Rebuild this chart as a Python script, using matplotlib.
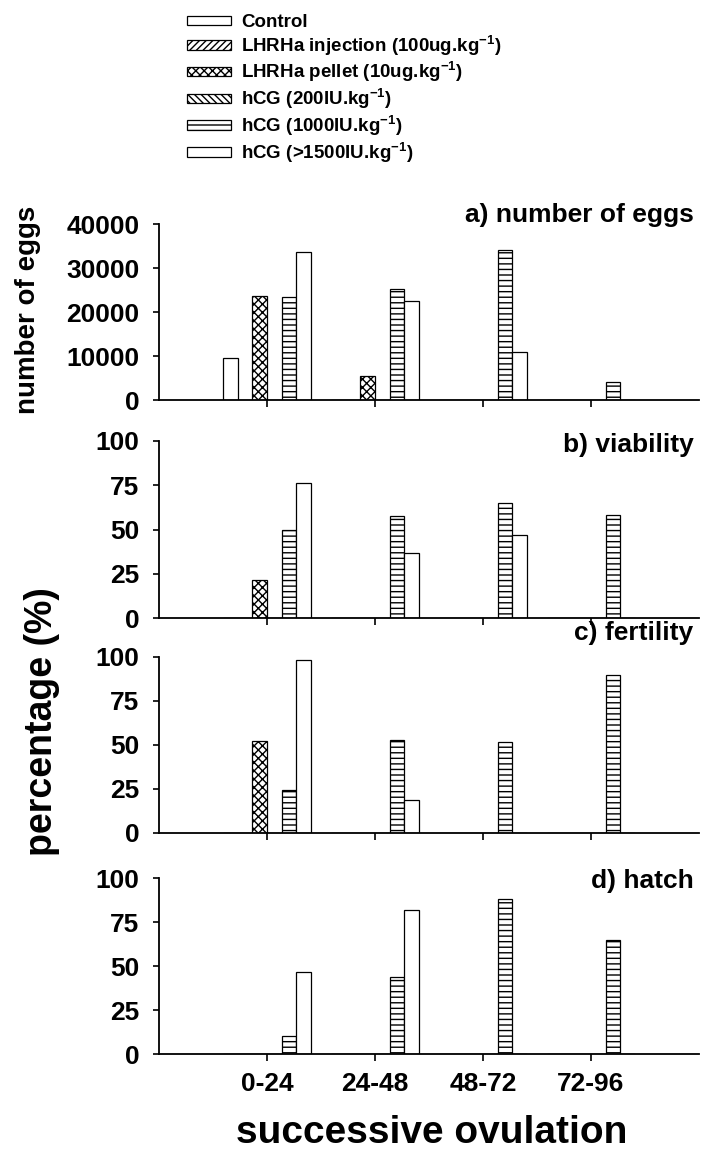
import matplotlib
matplotlib.use('Agg')
import matplotlib.pyplot as plt
import numpy as np

plt.rcParams['font.family'] = ['Liberation Sans', 'DejaVu Sans']
plt.rcParams['font.weight'] = 'bold'
plt.rcParams['mathtext.fontset'] = 'custom'
plt.rcParams['mathtext.rm'] = 'Liberation Sans:bold'
plt.rcParams['mathtext.default'] = 'rm'
plt.rcParams['hatch.linewidth'] = 1.0

categories = ['0-24', '24-48', '48-72', '72-96']
treatments = ['Control',
              r'LHRHa injection (100ug.kg$^{-1}$)',
              r'LHRHa pellet (10ug.kg$^{-1}$)',
              r'hCG (200IU.kg$^{-1}$)',
              r'hCG (1000IU.kg$^{-1}$)',
              r'hCG (>1500IU.kg$^{-1}$)']
hatches = ['', '/////', 'xxxx', '\\\\\\\\\\', '---', '']

# a) number of eggs
eggs_control = [9500, 0, 0, 0]
eggs_injection = [0, 0, 0, 0]
eggs_pellet = [23600, 5400, 0, 0]
eggs_hcg200 = [0, 0, 0, 0]
eggs_hcg1000 = [23400, 25200, 34100, 4100]
eggs_hcg1500 = [33600, 22500, 10900, 0]

# b) viability
via_control = [0, 0, 0, 0]
via_injection = [0, 0, 0, 0]
via_pellet = [21.5, 0, 0, 0]
via_hcg200 = [0, 0, 0, 0]
via_hcg1000 = [50, 57.5, 65, 58]
via_hcg1500 = [76, 36.5, 47, 0]

# c) fertility
fer_control = [0, 0, 0, 0]
fer_injection = [0, 0, 0, 0]
fer_pellet = [52.5, 0, 0, 0]
fer_hcg200 = [0, 0, 0, 0]
fer_hcg1000 = [24.5, 53, 51.5, 89.5]
fer_hcg1500 = [98.5, 18.5, 0, 0]

# d) hatch
hat_control = [0, 0, 0, 0]
hat_injection = [0, 0, 0, 0]
hat_pellet = [0, 0, 0, 0]
hat_hcg200 = [0, 0, 0, 0]
hat_hcg1000 = [10.5, 44, 88, 64.5]
hat_hcg1500 = [46.5, 82, 0, 0]

panels = [
    ('a) number of eggs', 40000, [0, 10000, 20000, 30000, 40000],
     [eggs_control, eggs_injection, eggs_pellet, eggs_hcg200, eggs_hcg1000, eggs_hcg1500]),
    ('b) viability', 100, [0, 25, 50, 75, 100],
     [via_control, via_injection, via_pellet, via_hcg200, via_hcg1000, via_hcg1500]),
    ('c) fertility', 100, [0, 25, 50, 75, 100],
     [fer_control, fer_injection, fer_pellet, fer_hcg200, fer_hcg1000, fer_hcg1500]),
    ('d) hatch', 100, [0, 25, 50, 75, 100],
     [hat_control, hat_injection, hat_pellet, hat_hcg200, hat_hcg1000, hat_hcg1500]),
]

W, H = 703, 1151
fig = plt.figure(figsize=(W / 100, H / 100), dpi=100)

# axes boxes in pixels: (top, bottom)
boxes = [(224, 400), (441, 618), (657, 833), (878, 1054)]
title_dy = [2, -11, 17, -10]
left, right = 159, 699

x = np.arange(len(categories))
w = 0.136
handles = None
for i, (title, ymax, yticks, series) in enumerate(panels):
    top, bot = boxes[i]
    ax = fig.add_axes([left / W, 1 - bot / H, (right - left) / W, (bot - top) / H])
    bars = []
    for j, vals in enumerate(series):
        b = ax.bar(x + (j - 2.5) * w, vals, w, color='white', edgecolor='black',
                   linewidth=0.9, hatch=hatches[j], label=treatments[j])
        bars.append(b)
    if handles is None:
        handles = bars
    ax.set_xlim(-1, 4)
    ax.set_ylim(0, ymax)
    ax.set_yticks(yticks)
    ax.set_xticks(x)
    if i == len(panels) - 1:
        ax.set_xticklabels(categories, fontsize=19, fontweight='bold')
    else:
        ax.set_xticklabels([])
    ax.tick_params(axis='y', labelsize=19, length=4, width=1.2, pad=10)
    ax.tick_params(axis='x', length=5, width=1.2, pad=8)
    for s in ['top', 'right']:
        ax.spines[s].set_visible(False)
    for s in ['left', 'bottom']:
        ax.spines[s].set_linewidth(1.3)
    ax.text(0.99, 1 + title_dy[i] / (bot - top), title, transform=ax.transAxes,
            ha='right', va='baseline', fontsize=19, fontweight='bold')

fig.legend(handles, treatments, loc='upper left', bbox_to_anchor=(187 / W, 1 - 14 / H),
           frameon=False, fontsize=13.5, handlelength=2.35, handleheight=0.4,
           labelspacing=0.14, handletextpad=0.55, borderpad=0, borderaxespad=0)

fig.text(28 / W, 1 - 310 / H, 'number of eggs', rotation=90, ha='center', va='center',
         fontsize=20, fontweight='bold')
fig.text(42 / W, 1 - 722 / H, 'percentage (%)', rotation=90, ha='center', va='center',
         fontsize=27, fontweight='bold')
fig.text(432 / W, 1 - 1133 / H, 'successive ovulation', ha='center', va='center',
         fontsize=28, fontweight='bold')

fig.savefig('out.png', dpi=100)
